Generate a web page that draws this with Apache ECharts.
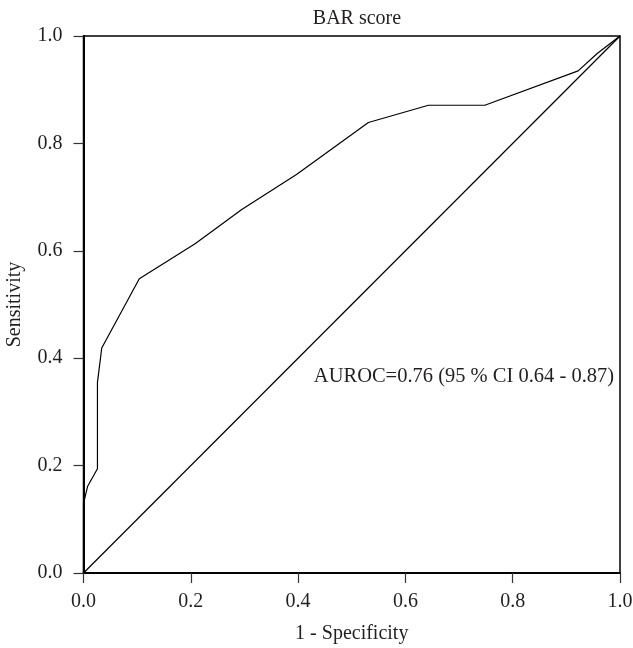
<!DOCTYPE html>
<html>
<head>
<meta charset="utf-8">
<script src="https://cdn.jsdelivr.net/npm/echarts@6/dist/echarts.min.js"></script>
<style>
  html, body { margin: 0; padding: 0; background: #fff; }
  #chart { width: 633px; height: 648px; }
</style>
</head>
<body>
<div id="chart"></div>
<script>
// ROC curve of the BAR score: false positive rate vs true positive rate
const fpr = [0, 0, 0.0075, 0.026, 0.026, 0.034, 0.104, 0.208, 0.295, 0.397, 0.531, 0.643, 0.748, 0.922, 0.958, 1];
const tpr = [0, 0.129, 0.161, 0.194, 0.355, 0.419, 0.548, 0.613, 0.677, 0.742, 0.839, 0.871, 0.871, 0.935, 0.968, 1];
// chance (reference) diagonal
const diagX = [0, 1];
const diagY = [0, 1];
const tickLabels = ['0.0', '0.2', '0.4', '0.6', '0.8', '1.0'];
const titleText = 'BAR score';
const xName = '1 - Specificity';
const yName = 'Sensitivity';
const aurocText = 'AUROC=0.76 (95 % CI 0.64 - 0.87)';
const aurocAt = [0.989, 0.365];

const FONT = '"Liberation Serif", "DejaVu Serif", serif';
const TXT = '#231f20';

const rocData = fpr.map((x, i) => [x, tpr[i]]);
const diagData = diagX.map((x, i) => [x, diagY[i]]);

function axis(name, gap, labelMargin) {
  return {
    type: 'value', min: 0, max: 1, interval: 0.2,
    name: name, nameLocation: 'middle', nameGap: gap,
    nameTextStyle: { fontFamily: FONT, fontSize: 20, color: TXT },
    axisLine: { show: true, lineStyle: { color: '#000', width: 2 } },
    axisTick: { show: true, inside: false, length: 10, lineStyle: { color: '#333', width: 1.2 } },
    axisLabel: {
      margin: labelMargin, fontFamily: FONT, fontSize: 20, color: TXT,
      formatter: v => tickLabels[Math.round(v / 0.2)]
    },
    splitLine: { show: false }
  };
}

const chart = echarts.init(document.getElementById('chart'), null, { renderer: 'canvas' });
chart.setOption({
  animation: false,
  backgroundColor: '#fff',
  title: {
    text: titleText, left: 352, textAlign: 'center', top: 4,
    textStyle: { fontFamily: FONT, fontSize: 20, fontWeight: 'normal', color: TXT }
  },
  grid: {
    left: 83.5, right: 13, top: 36, bottom: 75,
    outerBoundsMode: 'none', containLabel: false,
    show: true, borderColor: '#000', borderWidth: 1.5, backgroundColor: 'transparent'
  },
  xAxis: axis(xName, 51, 19),
  yAxis: axis(yName, 59, 21),
  series: [
    {
      type: 'line', data: rocData, symbol: 'none',
      lineStyle: { color: '#000', width: 1.2 }
    },
    {
      type: 'line', data: diagData, symbol: 'none',
      lineStyle: { color: '#000', width: 1.2 },
      markPoint: {
        symbol: 'circle', symbolSize: 0,
        data: [{ coord: aurocAt, value: aurocText }],
        label: {
          show: true, position: 'left', distance: 0,
          formatter: aurocText,
          fontFamily: FONT, fontSize: 20.5, color: TXT
        }
      }
    }
  ]
});
</script>
</body>
</html>
